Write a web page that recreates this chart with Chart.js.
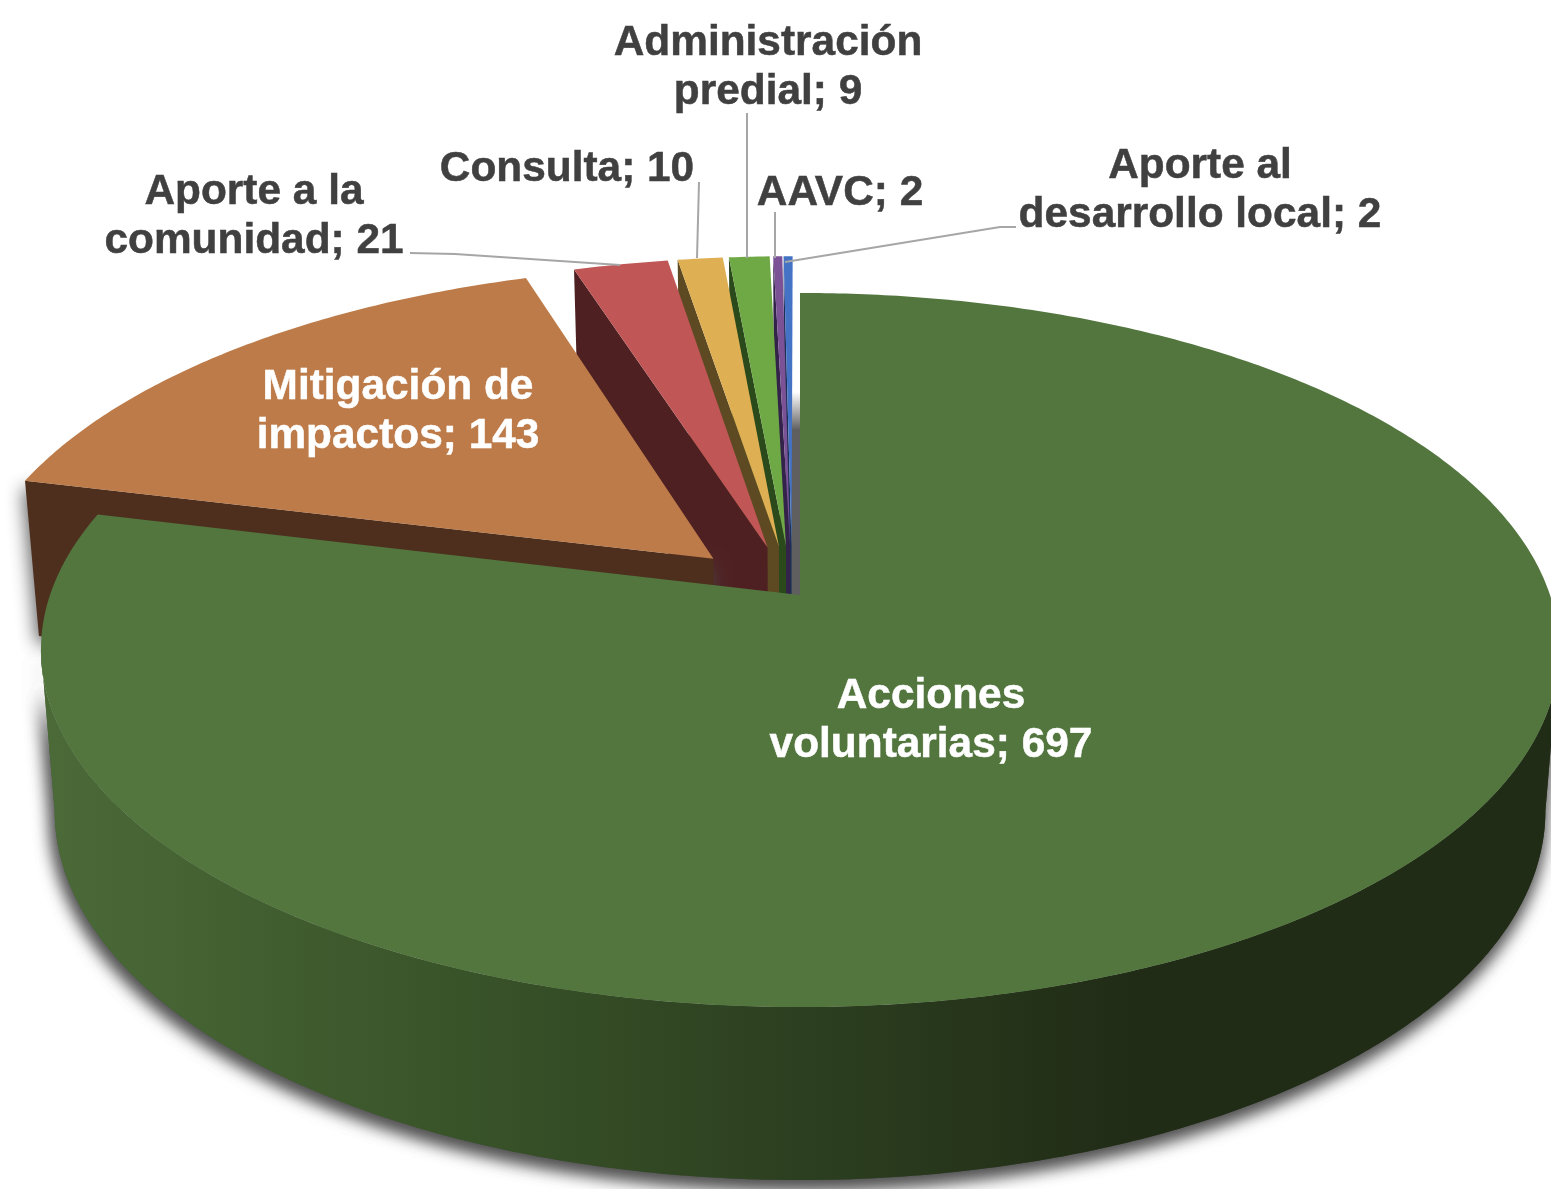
<!DOCTYPE html>
<html lang="es">
<head>
<meta charset="utf-8">
<title>Acciones</title>
<script src="https://cdn.jsdelivr.net/npm/chart.js@4/dist/chart.umd.min.js"></script>
<style>
  html, body { margin: 0; background: #fff; overflow: hidden; }
  canvas { display: block; }
</style>
</head>
<body>
<canvas id="pie3d" width="1551" height="1189"></canvas>
<script>
// values
const categories = ['Acciones voluntarias', 'Mitigación de impactos', 'Aporte a la comunidad', 'Consulta', 'Administración predial', 'AAVC', 'Aporte al desarrollo local'];
const counts = [697, 143, 21, 10, 9, 2, 2];

// slice styling
const topColors = ['#53763f', '#bd7b49', '#c05656', '#dfb053', '#6fa945', '#7a5295', '#4472c4'];
const faceColors = ['#53763f', '#4e2f1e', '#4f2022', '#5e4a22', '#2b4a1b', '#33234a', '#1d2f56'];
const explode = [0, 92, 85, 85, 85, 85, 85];
// small sideways correction of the exploded slices, as a share of the radius
const drift = [0, -0.004, -0.0105, -0.0105, -0.0105, -0.0105, -0.0105];

// label placement: centre x, first baseline, words on the first line (0 = one line)
const labelLayout = [
    { x: 931, y: 708, split: 1, color: '#ffffff' },
    { x: 398, y: 399, split: 2, color: '#ffffff' },
    { x: 254, y: 204, split: 3, color: '#404040' },
    { x: 567, y: 181, split: 0, color: '#404040' },
    { x: 768, y: 55, split: 1, color: '#404040' },
    { x: 840, y: 205, split: 0, color: '#404040' },
    { x: 1200, y: 178, split: 2, color: '#404040' },
];

// leader lines, in label order
const leaders = [
    null,
    null,
    [[410, 253], [455, 254], [620, 265]],
    [[699, 182], [697, 258]],
    [[747, 113], [747, 258]],
    [[775, 212], [775, 258]],
    [[1016, 227], [1000, 227], [785, 262]],
];

// perspective of the tilted disc
const CX = 800, CY = 595, RX = 750, RY = 348.6, TILT = 0.154;
const SHRINK = 0.982;
const LINE_HEIGHT = 49;
const FONT = "bold 42.4px 'Liberation Sans', Arial, sans-serif";

function project(u, v) {
    const w = 1 - TILT * v;
    return [CX + RX * u / w, CY + RY * v / w];
}

// same point on the underside of the disc
function drop(p) {
    const depth = 155 + (p[1] - 480) * 18 / 527;
    return [CX + (p[0] - CX) * SHRINK, p[1] + depth];
}

function polygon(ctx, pts) {
    ctx.beginPath();
    pts.forEach((p, i) => (i ? ctx.lineTo(p[0], p[1]) : ctx.moveTo(p[0], p[1])));
    ctx.closePath();
}

function rim(ox, oy, from, to) {
    const steps = Math.max(2, Math.ceil((to - from) / 0.01));
    const pts = [];
    for (let i = 0; i <= steps; i++) {
        const a = from + (to - from) * i / steps;
        pts.push(project(ox + Math.cos(a), oy + Math.sin(a)));
    }
    return pts;
}

function shadowOn(ctx) {
    ctx.shadowColor = 'rgba(75,75,75,0.9)';
    ctx.shadowBlur = 18;
    ctx.shadowOffsetY = 7;
    ctx.shadowOffsetX = -2;
}

function wallGradient(ctx) {
    const g = ctx.createLinearGradient(50, 0, 1130, 0);
    g.addColorStop(0, '#4b6a38');
    g.addColorStop(0.35, '#3a552a');
    g.addColorStop(0.7, '#2c3f20');
    g.addColorStop(1, '#212c16');
    return g;
}

function drawSlice(ctx, chart, arc, index) {
    const unit = chart.chartArea.height / 2;
    const mid = (arc.startAngle + arc.endAngle) / 2;
    const off = (arc.options.offset || 0) / unit;
    const ox = Math.cos(mid) * off + drift[index];
    const oy = Math.sin(mid) * off;
    const apex = project(ox, oy);
    const edge = rim(ox, oy, arc.startAngle, arc.endAngle);

    // outer wall, between the two points where the disc outline turns away
    const turn = Math.asin(TILT);
    const from = Math.max(arc.startAngle, turn);
    const to = Math.min(arc.endAngle, Math.PI - turn);
    if (to > from) {
        const front = rim(ox, oy, from, to);
        ctx.save();
        shadowOn(ctx);
        ctx.fillStyle = wallGradient(ctx);
        polygon(ctx, front.concat(front.map(drop).reverse()));
        ctx.fill();
        ctx.fill(); // second pass, the shadow is quite dark in the picture
        ctx.restore();
    }

    // cut face on the start side of exploded slices
    if (off > 0) {
        ctx.save();
        if (index === 1) shadowOn(ctx);
        ctx.fillStyle = faceColors[index];
        polygon(ctx, [apex, edge[0], drop(edge[0]), drop(apex)]);
        ctx.fill();
        ctx.restore();
    }

    // top
    ctx.fillStyle = arc.options.backgroundColor;
    polygon(ctx, [apex].concat(edge));
    ctx.fill();
}

const pie3dPlugin = {
    id: 'pie3d',
    beforeDatasetDraw(chart) {
        const ctx = chart.ctx;
        const arcs = chart.getDatasetMeta(0).data;

        // grey sliver left of the big slice's cut edge
        const g = ctx.createLinearGradient(0, 392, 0, 430);
        g.addColorStop(0, 'rgba(95,95,95,0)');
        g.addColorStop(1, 'rgba(95,95,95,1)');
        ctx.fillStyle = g;
        ctx.fillRect(791, 392, 10, 205);

        for (let i = arcs.length - 1; i >= 0; i--) {
            drawSlice(ctx, chart, arcs[i], i);
        }
        return false;
    },
    afterDraw(chart) {
        const ctx = chart.ctx;
        ctx.save();
        ctx.strokeStyle = '#a6a6a6';
        ctx.lineWidth = 2;
        leaders.forEach(line => {
            if (!line) return;
            ctx.beginPath();
            line.forEach((p, i) => (i ? ctx.lineTo(p[0], p[1]) : ctx.moveTo(p[0], p[1])));
            ctx.stroke();
        });

        ctx.font = FONT;
        ctx.textAlign = 'center';
        ctx.textBaseline = 'alphabetic';
        ctx.lineWidth = 0.5;
        categories.forEach((name, i) => {
            const layout = labelLayout[i];
            const words = `${name}; ${counts[i]}`.split(' ');
            const lines = layout.split
                ? [words.slice(0, layout.split).join(' '), words.slice(layout.split).join(' ')]
                : [words.join(' ')];
            ctx.fillStyle = layout.color;
            ctx.strokeStyle = layout.color;
            lines.forEach((text, n) => {
                ctx.fillText(text, layout.x, layout.y + n * LINE_HEIGHT);
                ctx.strokeText(text, layout.x, layout.y + n * LINE_HEIGHT);
            });
        });
        ctx.restore();
    },
};

new Chart(document.getElementById('pie3d'), {
    type: 'pie',
    data: {
        labels: categories,
        datasets: [{ data: counts, backgroundColor: topColors, offset: explode, hoverOffset: 0, borderWidth: 0 }],
    },
    options: {
        responsive: false,
        animation: false,
        events: [],
        layout: { padding: 0 },
        plugins: { legend: { display: false }, tooltip: { enabled: false }, title: { display: false } },
    },
    plugins: [pie3dPlugin],
});
</script>
</body>
</html>
